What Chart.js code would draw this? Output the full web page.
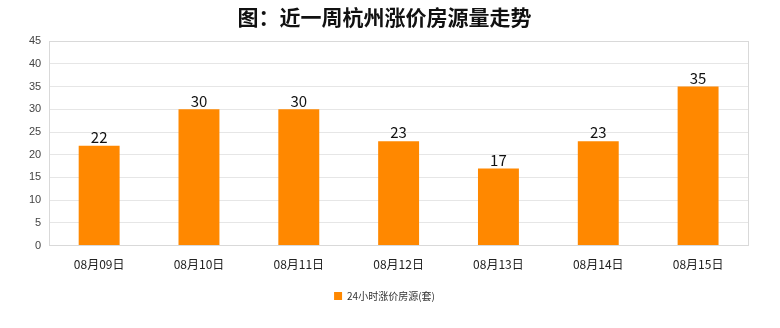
<!DOCTYPE html>
<html>
<head>
<meta charset="utf-8">
<script src="https://cdn.jsdelivr.net/npm/chart.js@4"></script>
<style>
  html, body { margin: 0; padding: 0; background: #fff; }
  #wrap { width: 780px; height: 328px; }
</style>
</head>
<body>
<div id="wrap"><canvas id="priceChart"></canvas></div>
<script>
const dates = ['08月09日', '08月10日', '08月11日', '08月12日', '08月13日', '08月14日', '08月15日'];
const risingCounts = [22, 30, 30, 23, 17, 23, 35];
const seriesName = '24小时涨价房源(套)';
const chartTitle = '图：近一周杭州涨价房源量走势';

const cjk = "'Noto Sans CJK SC', 'Noto Sans', sans-serif";

// values above each bar + frame round the plot
const barLabels = {
    id: 'barLabels',
    afterDatasetsDraw(chart) {
        const c = chart.ctx;
        const area = chart.chartArea;
        c.save();
        c.strokeStyle = '#d9d9d9';
        c.lineWidth = 1;
        c.strokeRect(Math.round(area.left) + 0.5, Math.round(area.top) + 0.5,
            Math.round(area.width), Math.round(area.height));
        c.fillStyle = '#111';
        c.font = "15px " + cjk;
        c.textAlign = 'center';
        c.textBaseline = 'bottom';
        chart.getDatasetMeta(0).data.forEach((bar, i) => {
            c.fillText(chart.data.datasets[0].data[i], bar.x, bar.y - 1);
        });
        c.restore();
    }
};

new Chart(document.getElementById('priceChart'), {
    type: 'bar',
    data: {
        labels: dates,
        datasets: [{
            label: seriesName,
            data: risingCounts,
            backgroundColor: '#ff8800',
            borderColor: '#e07a10',
            borderWidth: 0,
            barPercentage: 0.82,
            categoryPercentage: 0.5
        }]
    },
    options: {
        responsive: true,
        maintainAspectRatio: false,
        animation: false,
        layout: { padding: { left: 21, right: 32, top: 0, bottom: 17 } },
        scales: {
            x: {
                grid: { display: false },
                border: { color: '#d9d9d9' },
                ticks: { color: '#222', font: { family: cjk, size: 12 }, padding: 4 }
            },
            y: {
                min: 0,
                max: 45,
                ticks: { stepSize: 5, color: '#444', font: { family: 'Arial, Liberation Sans', size: 11 }, padding: 8 },
                grid: { color: '#e6e6e6', drawTicks: false },
                border: { color: '#d9d9d9' }
            }
        },
        plugins: {
            title: {
                display: true,
                text: chartTitle,
                color: '#111',
                font: { family: cjk, size: 21, weight: 'bold' },
                padding: { top: 4, bottom: 12 }
            },
            legend: {
                position: 'bottom',
                labels: {
                    boxWidth: 8,
                    boxHeight: 8,
                    color: '#333',
                    font: { family: cjk, size: 10 },
                    padding: 15
                }
            },
            tooltip: { enabled: false }
        }
    },
    plugins: [barLabels]
});
</script>
</body>
</html>
